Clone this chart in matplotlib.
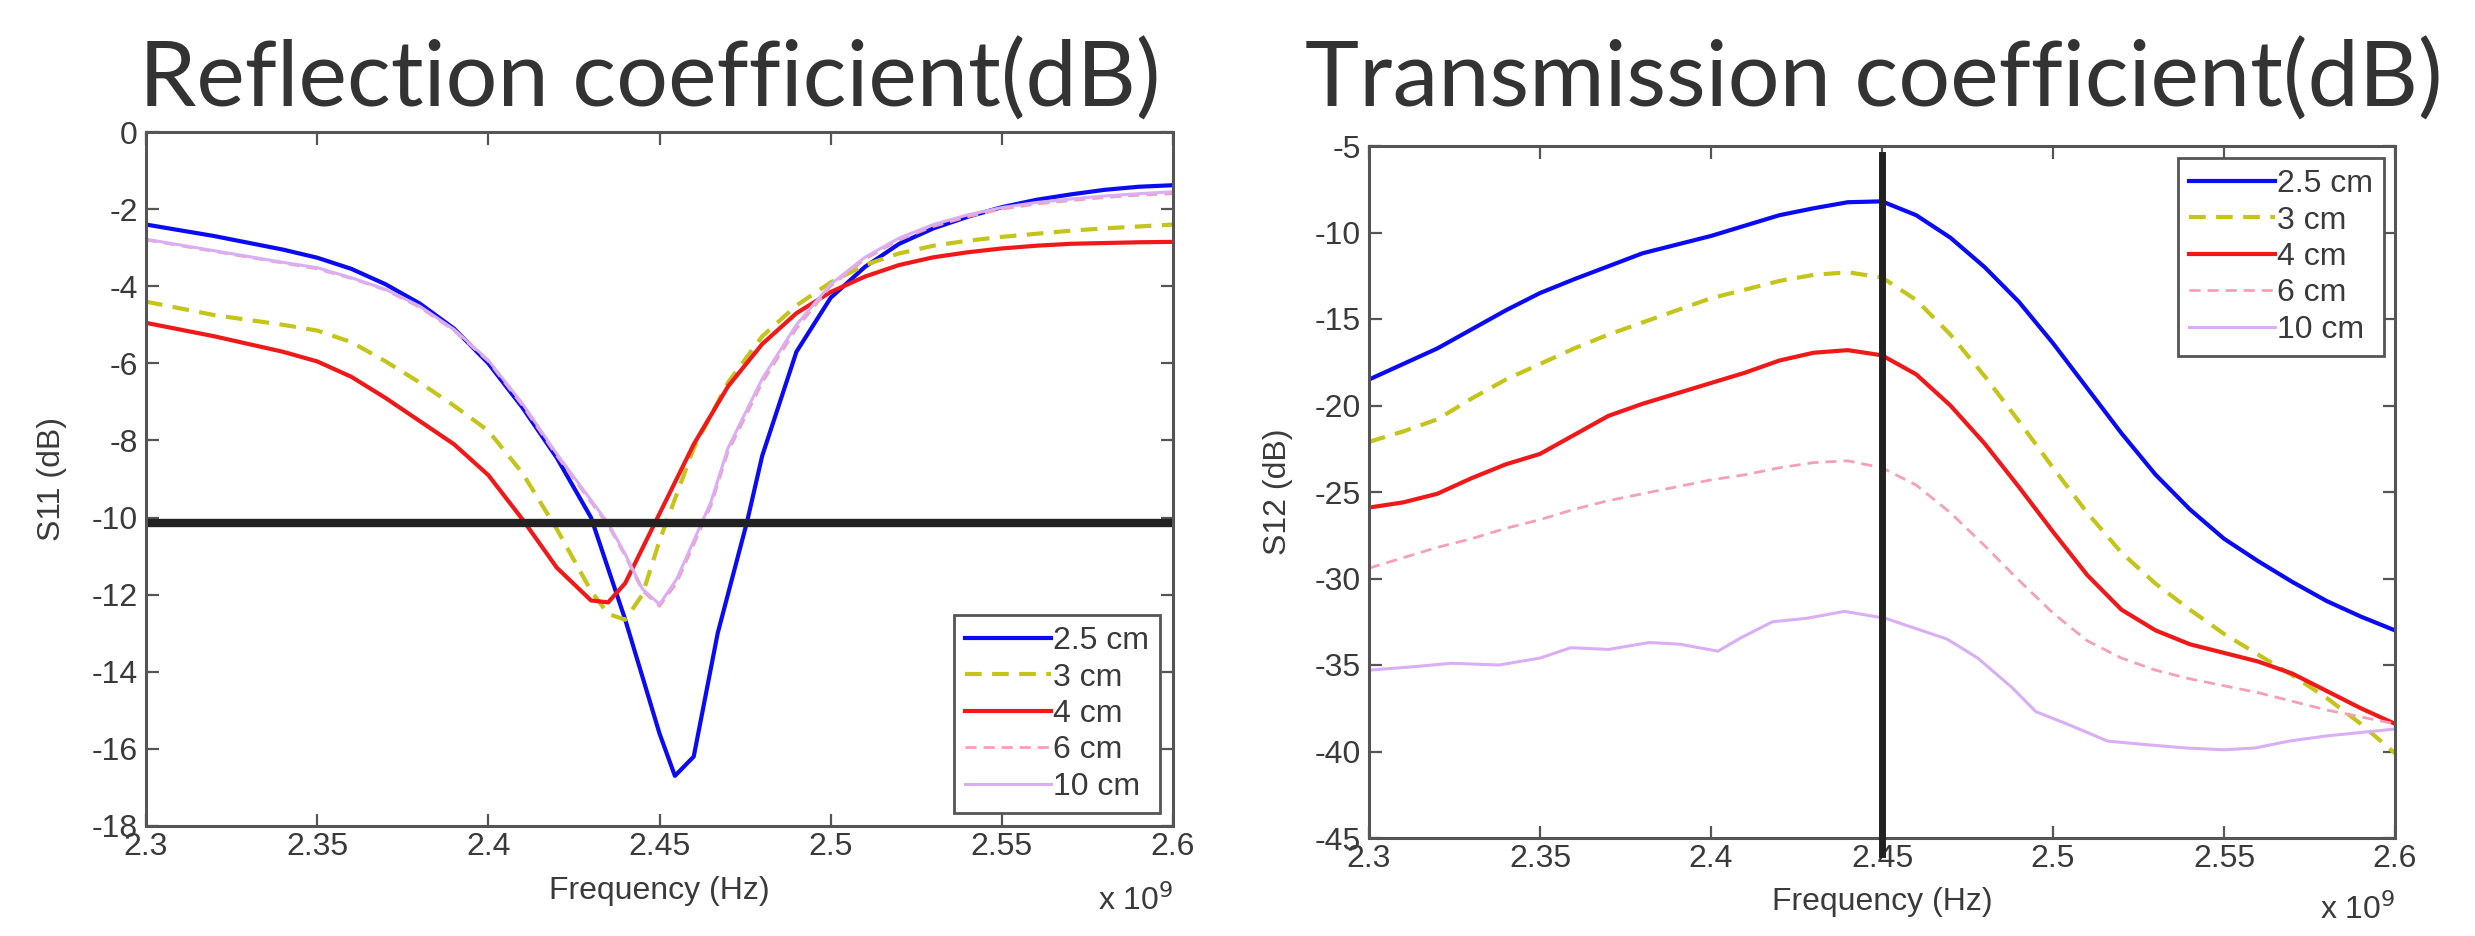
import matplotlib
matplotlib.use("Agg")
import matplotlib.pyplot as plt

# ---------------- data (frequency in units of 1e9 Hz) ----------------
labels = ["2.5 cm", "3 cm", "4 cm", "6 cm", "10 cm"]

s11_f_blue = [2.30, 2.32, 2.34, 2.35, 2.36, 2.37, 2.38, 2.39, 2.40, 2.41, 2.42, 2.43, 2.44, 2.45, 2.4545,
              2.46, 2.467, 2.4756, 2.48, 2.49, 2.50, 2.51, 2.52, 2.53, 2.54, 2.55, 2.56, 2.57, 2.58, 2.59, 2.60]
s11_blue = [-2.40, -2.70, -3.05, -3.26, -3.55, -3.95, -4.45, -5.10, -6.00, -7.15, -8.45, -10.00, -12.65, -15.60, -16.70,
            -16.20, -13.00, -10.10, -8.40, -5.70, -4.30, -3.50, -2.90, -2.50, -2.20, -1.95, -1.76, -1.62, -1.50, -1.42, -1.38]

s11_f_yellow = [2.30, 2.32, 2.34, 2.35, 2.36, 2.37, 2.38, 2.39, 2.40, 2.41, 2.42, 2.43, 2.435, 2.44, 2.445,
                2.45, 2.455, 2.46, 2.47, 2.48, 2.49, 2.50, 2.51, 2.52, 2.53, 2.54, 2.55, 2.56, 2.57, 2.58, 2.59, 2.60]
s11_yellow = [-4.40, -4.75, -5.00, -5.15, -5.45, -5.95, -6.50, -7.10, -7.75, -8.85, -10.30, -11.90, -12.50, -12.65, -12.00,
              -10.60, -9.40, -8.20, -6.50, -5.30, -4.50, -3.90, -3.45, -3.15, -2.95, -2.82, -2.72, -2.64, -2.56, -2.50, -2.45, -2.40]

s11_f_red = [2.30, 2.32, 2.34, 2.35, 2.36, 2.37, 2.38, 2.39, 2.40, 2.41, 2.42, 2.43, 2.435, 2.44, 2.445,
             2.45, 2.455, 2.46, 2.47, 2.48, 2.49, 2.50, 2.51, 2.52, 2.53, 2.54, 2.55, 2.56, 2.57, 2.58, 2.59, 2.60]
s11_red = [-4.95, -5.30, -5.70, -5.95, -6.35, -6.90, -7.50, -8.10, -8.90, -10.05, -11.30, -12.15, -12.20, -11.70, -10.80,
           -9.90, -9.00, -8.10, -6.60, -5.50, -4.70, -4.15, -3.75, -3.45, -3.25, -3.12, -3.02, -2.95, -2.90, -2.88, -2.86, -2.85]

s11_f_pink = [2.30, 2.32, 2.34, 2.35, 2.36, 2.37, 2.38, 2.39, 2.40, 2.41, 2.42, 2.43, 2.435, 2.44, 2.445, 2.45,
              2.455, 2.46, 2.465, 2.47, 2.48, 2.49, 2.50, 2.51, 2.52, 2.53, 2.54, 2.55, 2.56, 2.57, 2.58, 2.59, 2.60]
s11_pink = [-2.80, -3.10, -3.40, -3.55, -3.80, -4.10, -4.55, -5.15, -5.95, -7.10, -8.40, -9.60, -10.20, -11.00, -11.90, -12.30,
            -11.70, -10.70, -9.70, -8.30, -6.50, -5.10, -4.00, -3.30, -2.80, -2.45, -2.20, -2.00, -1.87, -1.78, -1.70, -1.64, -1.60]

s11_f_lav = [2.30, 2.32, 2.34, 2.35, 2.36, 2.37, 2.38, 2.39, 2.40, 2.41, 2.42, 2.43, 2.435, 2.44, 2.445, 2.45,
             2.455, 2.46, 2.465, 2.47, 2.48, 2.49, 2.50, 2.51, 2.52, 2.53, 2.54, 2.55, 2.56, 2.57, 2.58, 2.59, 2.60]
s11_lav = [-2.78, -3.08, -3.38, -3.52, -3.78, -4.08, -4.52, -5.12, -5.92, -7.05, -8.35, -9.55, -10.15, -10.95, -11.85, -12.25,
           -11.60, -10.60, -9.60, -8.20, -6.40, -5.00, -3.95, -3.25, -2.75, -2.40, -2.15, -1.96, -1.83, -1.74, -1.66, -1.60, -1.55]

s12_f = [2.30, 2.31, 2.32, 2.33, 2.34, 2.35, 2.36, 2.37, 2.38, 2.39, 2.40, 2.41, 2.42, 2.43, 2.44, 2.45,
         2.46, 2.47, 2.48, 2.49, 2.50, 2.51, 2.52, 2.53, 2.54, 2.55, 2.56, 2.57, 2.58, 2.59, 2.60]
s12_blue = [-18.5, -17.6, -16.7, -15.6, -14.5, -13.5, -12.7, -11.95, -11.2, -10.7, -10.2, -9.6, -9.0, -8.6, -8.25, -8.2,
            -9.0, -10.3, -12.0, -14.0, -16.4, -19.0, -21.6, -24.0, -26.0, -27.7, -29.0, -30.2, -31.3, -32.2, -33.0]
s12_yellow = [-22.1, -21.5, -20.8, -19.6, -18.5, -17.6, -16.7, -15.9, -15.2, -14.5, -13.8, -13.3, -12.8, -12.45, -12.3, -12.6,
              -13.9, -15.9, -18.3, -20.9, -23.6, -26.2, -28.5, -30.3, -31.8, -33.2, -34.4, -35.6, -36.9, -38.4, -40.1]
s12_red = [-25.9, -25.6, -25.1, -24.2, -23.4, -22.8, -21.7, -20.6, -19.9, -19.3, -18.7, -18.1, -17.4, -16.95, -16.8, -17.1,
           -18.2, -20.0, -22.2, -24.7, -27.3, -29.8, -31.8, -33.0, -33.8, -34.3, -34.8, -35.5, -36.5, -37.5, -38.4]
s12_pink = [-29.4, -28.8, -28.2, -27.7, -27.1, -26.6, -26.0, -25.5, -25.1, -24.7, -24.3, -24.0, -23.6, -23.3, -23.2, -23.6,
            -24.6, -26.2, -28.1, -30.1, -32.0, -33.6, -34.6, -35.3, -35.8, -36.2, -36.6, -37.1, -37.6, -38.0, -38.4]

s12_f_lav = [2.300, 2.313, 2.324, 2.338, 2.350, 2.359, 2.370, 2.382, 2.391, 2.402, 2.409, 2.418, 2.428, 2.439,
             2.451, 2.460, 2.469, 2.478, 2.488, 2.495, 2.504, 2.516, 2.527, 2.539, 2.550, 2.559, 2.569, 2.580, 2.600]
s12_lav = [-35.3, -35.1, -34.9, -35.0, -34.6, -34.0, -34.1, -33.7, -33.8, -34.2, -33.4, -32.5, -32.3, -31.9,
           -32.3, -32.9, -33.5, -34.6, -36.3, -37.7, -38.4, -39.4, -39.6, -39.8, -39.9, -39.8, -39.4, -39.1, -38.7]

xticks = [2.3, 2.35, 2.4, 2.45, 2.5, 2.55, 2.6]
xticklabels = ["2.3", "2.35", "2.4", "2.45", "2.5", "2.55", "2.6"]
s11_yticks = [0, -2, -4, -6, -8, -10, -12, -14, -16, -18]
s12_yticks = [-5, -10, -15, -20, -25, -30, -35, -40, -45]

# ---------------- style ----------------
colors = ["#0a0af5", "#c4c41a", "#f01818", "#f5a0b4", "#d9aef5"]
styles = ["-", "--", "-", "--", "-"]
widths = [3.0, 3.0, 3.0, 2.0, 2.2]
TXT = "#3a3a3a"
SPINE = "#555555"
FS = 23

plt.rcParams["font.family"] = ["Liberation Sans", "DejaVu Sans"]

fig = plt.figure(figsize=(24.75, 9.36), dpi=100)
axL = fig.add_axes([146 / 2475, 1 - 826 / 936, (1173 - 146) / 2475, (826 - 132) / 936])
axR = fig.add_axes([1369 / 2475, 1 - 838 / 936, (2395 - 1369) / 2475, (838 - 146) / 936])


def style_axes(ax, yticks, ylabel, xlab_y, ylab_x, off_y):
    ax.set_xlim(2.3, 2.6)
    ax.set_xticks(xticks)
    ax.set_xticklabels(xticklabels)
    ax.set_yticks(yticks)
    ax.set_yticklabels([str(v) for v in yticks])
    ax.tick_params(direction="in", length=9, width=1.6, colors=SPINE, labelcolor=TXT,
                   labelsize=FS, top=True, right=True)
    ax.tick_params(axis="x", pad=4)
    ax.tick_params(axis="y", pad=6)
    for s in ax.spines.values():
        s.set_color(SPINE)
        s.set_linewidth(2.2)
    ax.set_xlabel("Frequency (Hz)", fontsize=FS, color=TXT)
    ax.xaxis.set_label_coords(0.5, xlab_y)
    ax.set_ylabel(ylabel, fontsize=FS, color=TXT)
    ax.yaxis.set_label_coords(ylab_x, 0.5)
    ax.text(1.0, off_y, r"x 10$^{9}$", transform=ax.transAxes, fontsize=FS, color=TXT,
            ha="right", va="center")


def make_legend(ax, loc, anchor):
    leg = ax.legend(loc=loc, bbox_to_anchor=anchor, borderaxespad=0, fontsize=FS,
                    handlelength=2.7, handletextpad=0.05, labelspacing=0.2, borderpad=0.35,
                    fancybox=False, framealpha=1, edgecolor=SPINE)
    leg.get_frame().set_linewidth(2.0)
    for t in leg.get_texts():
        t.set_color(TXT)
    return leg


def draw(ax, xs_list, ys_list):
    for xs, ys, c, ls, lw, lab in zip(xs_list, ys_list, colors, styles, widths, labels):
        ln, = ax.plot(xs, ys, color=c, linestyle=ls, linewidth=lw, label=lab)
        if ls == "--":
            ln.set_dashes((4, 2.5))


# ---------------- left: S11 ----------------
draw(axL, [s11_f_blue, s11_f_yellow, s11_f_red, s11_f_pink, s11_f_lav],
     [s11_blue, s11_yellow, s11_red, s11_pink, s11_lav])
axL.axhline(-10.15, color="#222222", linewidth=6)
axL.set_ylim(-18, 0)
style_axes(axL, s11_yticks, "S11 (dB)", -0.072, -0.077, -0.107)
make_legend(axL, "lower right", (1 - 13 / 1027, 13 / 694))

# ---------------- right: S12 ----------------
draw(axR, [s12_f, s12_f, s12_f, s12_f, s12_f_lav],
     [s12_blue, s12_yellow, s12_red, s12_pink, s12_lav])
axR.plot([2.45, 2.45], [-5.5, -45.9], color="#222222", linewidth=5, clip_on=False, zorder=5)
axR.set_ylim(-45, -5)
style_axes(axR, s12_yticks, "S12 (dB)", -0.071, -0.074, -0.104)
make_legend(axR, "upper right", (1 - 11 / 1026, 1 - 12 / 692))

# ---------------- titles ----------------
fig.text((123 + 1176) / 2 / 2475, 1 - 80 / 936, "Reflection coefficient(dB)", fontsize=66,
         family=["Lato", "DejaVu Sans"], color="#333333", ha="center", va="center")
fig.text((1286 + 2462) / 2 / 2475, 1 - 80 / 936, "Transmission coefficient(dB)", fontsize=66,
         family=["Lato", "DejaVu Sans"], color="#333333", ha="center", va="center")

fig.savefig("out.png", dpi=100)
